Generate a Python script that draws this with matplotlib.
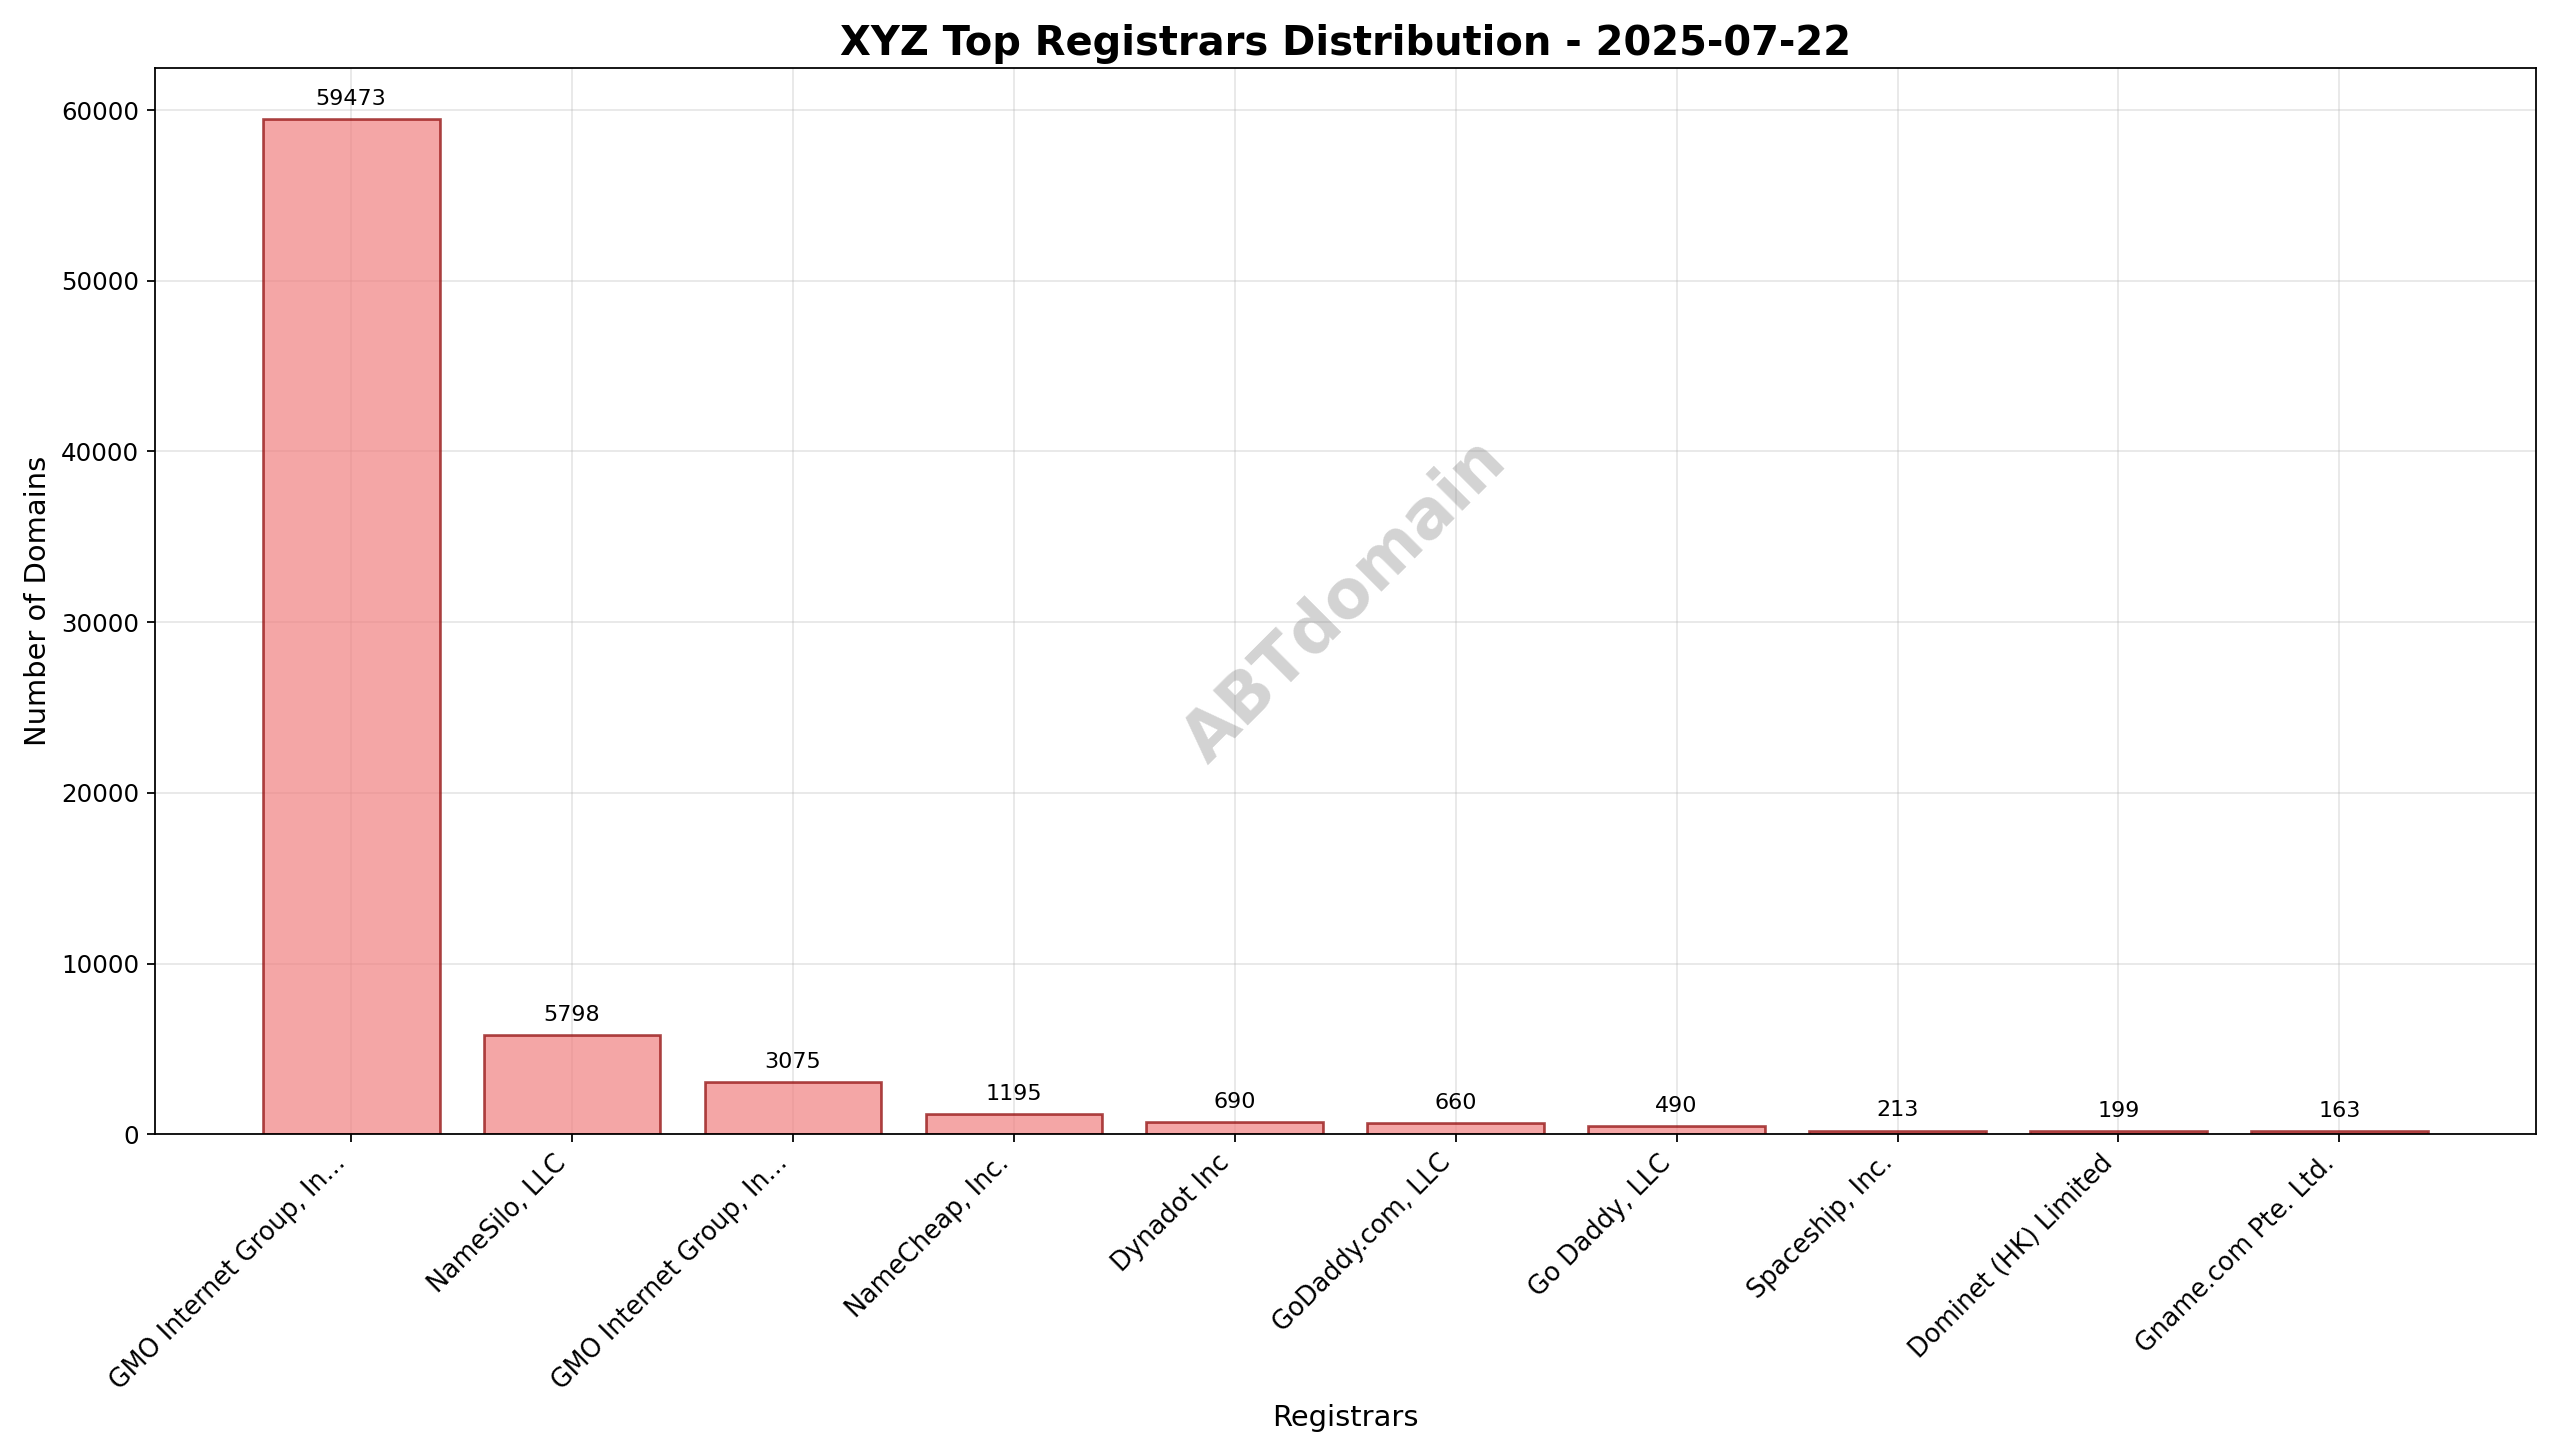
import matplotlib.pyplot as plt

registrars = ["GMO Internet Group, In...", "NameSilo, LLC", "GMO Internet Group, In...",
              "NameCheap, Inc.", "Dynadot Inc", "GoDaddy.com, LLC", "Go Daddy, LLC",
              "Spaceship, Inc.", "Dominet (HK) Limited", "Gname.com Pte. Ltd."]
counts = [59473, 5798, 3075, 1195, 690, 660, 490, 213, 199, 163]

fig, ax = plt.subplots(figsize=(16, 9.1), dpi=160)
x = range(len(registrars))
bars = ax.bar(x, counts, color="lightcoral", alpha=0.7, edgecolor="darkred", linewidth=1.2)
for b, v in zip(bars, counts):
    ax.text(b.get_x() + b.get_width() / 2, v + 600, str(v), ha="center", va="bottom", fontsize=10)

ax.set_xticks(list(x))
ax.set_xticklabels(registrars, rotation=45, ha="right", fontsize=11.5)
ax.tick_params(axis="y", labelsize=11)
ax.set_xlabel("Registrars", fontsize=13)
ax.set_ylabel("Number of Domains", fontsize=13)
ax.set_title("XYZ Top Registrars Distribution - 2025-07-22", fontsize=18, fontweight="bold")
ax.grid(True, alpha=0.3)
ax.set_axisbelow(True)
ax.text(0.5, 0.5, "ABTdomain", transform=ax.transAxes, fontsize=30, color="gray",
        alpha=0.35, fontweight="bold", rotation=45, ha="center", va="center")

plt.tight_layout()
plt.savefig("out.png")
